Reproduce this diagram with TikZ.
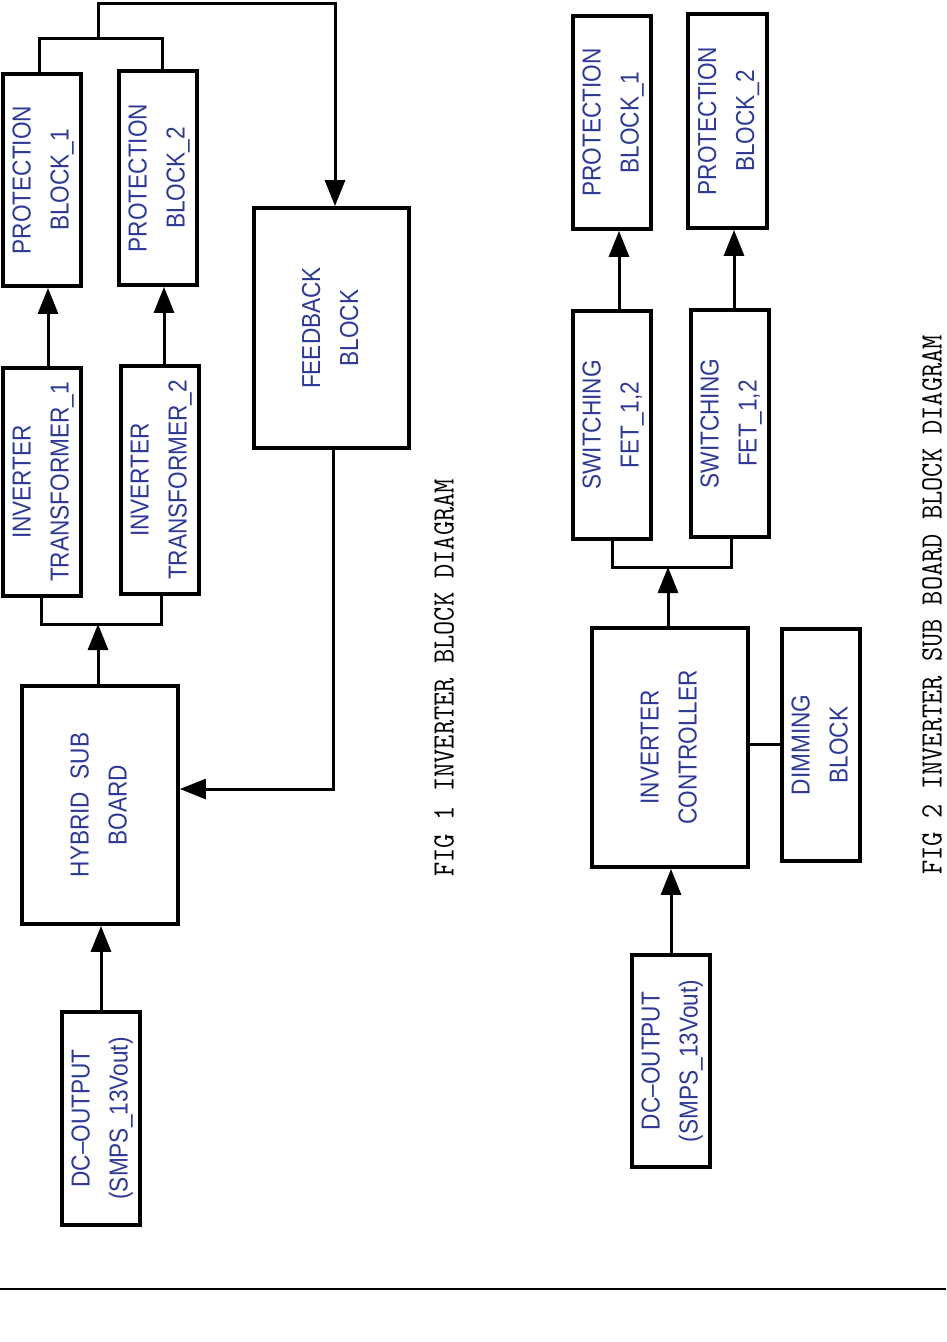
\documentclass[tikz,border=0pt]{standalone}
\usepackage{fontspec}
\usetikzlibrary{arrows.meta,calc}
\newfontfamily\blkfont{Liberation Sans}[FakeStretch=0.87]
\definecolor{txtblue}{RGB}{46,56,150}

% rotated two-line block text
\newcommand{\vlab}[1]{\rotatebox{90}{\begin{tabular}{@{}c@{}}#1\end{tabular}}}

\begin{document}
\begin{tikzpicture}[x=1pt,y=-1pt,>={Triangle[length=26pt,width=20pt]},
  blk/.style={draw,line width=3.8pt,inner sep=0pt,text=txtblue,
    font={\blkfont\fontsize{26}{38}\selectfont}},
  wire/.style={line width=3pt},
  figcap/.style={inner sep=0pt,font={\ttfamily\fontsize{31}{31}\selectfont}}]

\useasboundingbox (0,0) rectangle (946,1342);

%--- FIG 1: blocks ---
\node[blk,minimum width=78,minimum height=212] (pbA) at (42,180) {\vlab{PROTECTION\\BLOCK\_1}};
\node[blk,minimum width=78,minimum height=214] (pbB) at (158,178) {\vlab{PROTECTION\\BLOCK\_2}};
\node[blk,minimum width=78,minimum height=228] (itA) at (42,482) {\vlab{INVERTER\\TRANSFORMER\_1}};
\node[blk,minimum width=78,minimum height=228] (itB) at (160,480) {\vlab{INVERTER\\TRANSFORMER\_2}};
\node[blk,minimum width=155,minimum height=240] (fb) at (331.5,328) {\vlab{FEEDBACK\\BLOCK}};
\node[blk,minimum width=156,minimum height=238] (hsb) at (100,805) {\vlab{HYBRID~~SUB\\BOARD}};
\node[blk,minimum width=78,minimum height=213] (dcA) at (101,1118.5) {\vlab{DC–OUTPUT\\(SMPS\_13Vout)}};

%--- FIG 1: connectors ---
\coordinate (jt) at (98,38);
\coordinate (jb) at (98,624);
\draw[wire,->] ([xshift=6]itA.north) -- ([xshift=6]pbA.south);
\draw[wire,->] ([xshift=4]itB.north) -- ([xshift=6]pbB.south);
\draw[wire] ([xshift=-3]pbA.north) |- (jt) -| ([xshift=4]pbB.north);
\draw[wire,->] (jt) -- (98,3) -| ([xshift=3.5]fb.north);
\draw[wire] ([xshift=-1]itA.south) |- (jb) -| ([xshift=1]itB.south);
\draw[wire,->] (hsb.north -| jb) -- (jb);
\draw[wire,->] ([xshift=1.5]fb.south) |- ([yshift=16]hsb.east);
\draw[wire,->] (dcA.north) -- (dcA.north |- hsb.south);

\node[figcap] (capA) at (444,678) {\rotatebox{90}{\scalebox{0.89}[1]{FIG 1 INVERTER BLOCK DIAGRAM}}};

%--- FIG 2: blocks ---
\node[blk,minimum width=78,minimum height=213] (pbC) at (612,122.5) {\vlab{PROTECTION\\BLOCK\_1}};
\node[blk,minimum width=79,minimum height=214] (pbD) at (727.5,121) {\vlab{PROTECTION\\BLOCK\_2}};
\node[blk,minimum width=78,minimum height=228] (swA) at (612,425) {\vlab{SWITCHING\\FET\_1,2}};
\node[blk,minimum width=78,minimum height=227] (swB) at (730,423.5) {\vlab{SWITCHING\\FET\_1,2}};
\node[blk,minimum width=156,minimum height=239] (ic) at (670,747.5) {\vlab{INVERTER\\CONTROLLER}};
\node[blk,minimum width=78,minimum height=232] (dim) at (821,745) {\vlab{DIMMING\\BLOCK}};
\node[blk,minimum width=78,minimum height=212] (dcB) at (671,1061) {\vlab{DC–OUTPUT\\(SMPS\_13Vout)}};

%--- FIG 2: connectors ---
\coordinate (jc) at (668,567);
\draw[wire,->] ([xshift=7]swA.north) -- ([xshift=7]pbC.south);
\draw[wire,->] ([xshift=4]swB.north) -- ([xshift=6.5]pbD.south);
\draw[wire] (swA.south) |- (jc) -| ([xshift=1]swB.south);
\draw[wire,->] (ic.north -| jc) -- (jc);
\draw[wire] ([yshift=3.5]ic.east) -- ([yshift=3.5]ic.east -| dim.west);
\draw[wire,->] (dcB.north) -- (dcB.north |- ic.south);

\node[figcap] (capB) at (932,605) {\rotatebox{90}{\scalebox{0.89}[1]{FIG 2 INVERTER SUB BOARD BLOCK DIAGRAM}}};

%--- rule ---
\coordinate (rl) at (0,1289);
\coordinate (rr) at (946,1289);
\draw[line width=2.2pt] (rl) -- (rr);

\end{tikzpicture}
\end{document}
